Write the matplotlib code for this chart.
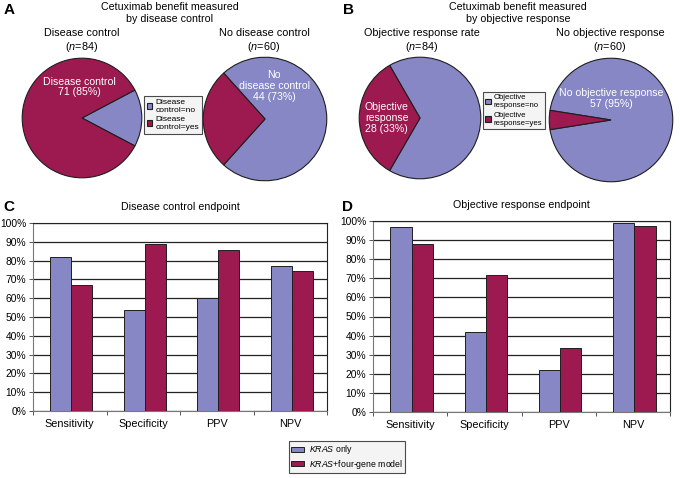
#!/usr/bin/env python3

import numpy as np
import matplotlib
matplotlib.use("Agg")
import matplotlib.pyplot as plt
from matplotlib.patches import Patch
from matplotlib.ticker import PercentFormatter, FixedLocator

plt.rcParams["font.family"] = ["Liberation Sans", "DejaVu Sans"]
plt.rcParams["mathtext.fontset"] = "custom"
plt.rcParams["mathtext.rm"] = "Liberation Sans"
plt.rcParams["mathtext.it"] = "Liberation Sans:italic"

# Data
# pies: counts of (no, yes)
dc_yes_counts = [13, 71]     # disease control group (n=84): no / yes
dc_no_counts = [44, 16]      # no disease control group (n=60): no / yes
or_yes_counts = [56, 28]     # objective response rate group (n=84): no / yes
or_no_counts = [57, 3]       # no objective response group (n=60): no / yes

categories = ["Sensitivity", "Specificity", "PPV", "NPV"]
dc_kras = [0.82, 0.535, 0.60, 0.77]
dc_model = [0.67, 0.89, 0.855, 0.745]
or_kras = [0.97, 0.42, 0.22, 0.99]
or_model = [0.88, 0.715, 0.335, 0.975]

BLUE = "#8787C6"
RED = "#9C1A4F"
EDGE = "#1e1e1e"

W, H = 680, 478
fig = plt.figure(figsize=(W / 100, H / 100), dpi=100)


def px_axes(x0, y0, x1, y1):
    """Add axes from pixel box (top-left origin)."""
    return fig.add_axes([x0 / W, 1 - y1 / H, (x1 - x0) / W, (y1 - y0) / H])


def draw_pie(cx, cy, r, counts, text, tx, ty):
    ax = px_axes(cx - r, cy - r, cx + r, cy + r)
    # 'no' is blue, 'yes' is red; the smaller slice faces the legend
    frac_no = counts[0] / sum(counts)
    if frac_no < 0.5:
        start = -frac_no * 180
    else:
        start = 180 + (1 - frac_no) * 180
    wedges, _ = ax.pie(counts, colors=[BLUE, RED], startangle=start,
                       counterclock=True, radius=1,
                       wedgeprops=dict(edgecolor=EDGE, linewidth=0.8))
    ax.set_xlim(-1.02, 1.02)
    ax.set_ylim(-1.02, 1.02)
    ax.set_aspect("auto")
    ax.text(tx, ty, text, color="white", ha="center", va="center",
            fontsize=7.6, linespacing=1.1)
    return wedges


def style_legend(leg):
    leg.get_frame().set_facecolor("#f2f2f2")
    leg.get_frame().set_edgecolor(EDGE)
    leg.get_frame().set_linewidth(0.8)


# Panel A
fig.text(4 / W, 1 - 10 / H, "A", fontsize=11, fontweight="bold", va="center")
fig.text(170 / W, 1 - 13 / H, "Cetuximab benefit measured\nby disease control",
         ha="center", va="center", fontsize=7.7, linespacing=1.15)
fig.text(82 / W, 1 - 41 / H, "Disease control\n($\\it{n}$=84)",
         ha="center", va="center", fontsize=7.8, linespacing=1.2)
fig.text(264 / W, 1 - 41 / H, "No disease control\n($\\it{n}$=60)",
         ha="center", va="center", fontsize=7.8, linespacing=1.2)
wa = draw_pie(82, 118, 61, dc_yes_counts, "Disease control\n71 (85%)", -0.05, 0.52)
draw_pie(265, 119, 63, dc_no_counts, "No\ndisease control\n44 (73%)", 0.15, 0.53)
leg = fig.legend(wa, ["Disease\ncontrol=no", "Disease\ncontrol=yes"],
                 loc="upper left", bbox_to_anchor=(144 / W, 1 - 96 / H),
                 fontsize=6.0, frameon=True, fancybox=False,
                 handlelength=0.7, handleheight=0.7, handletextpad=0.4,
                 borderpad=0.3, labelspacing=0.3, borderaxespad=0)
style_legend(leg)

# Panel B
fig.text(343 / W, 1 - 10 / H, "B", fontsize=11, fontweight="bold", va="center")
fig.text(518 / W, 1 - 13 / H, "Cetuximab benefit measured\nby objective response",
         ha="center", va="center", fontsize=7.7, linespacing=1.15)
fig.text(422 / W, 1 - 41 / H, "Objective response rate\n($\\it{n}$=84)",
         ha="center", va="center", fontsize=7.8, linespacing=1.2)
fig.text(610 / W, 1 - 41 / H, "No objective response\n($\\it{n}$=60)",
         ha="center", va="center", fontsize=7.8, linespacing=1.2)
wb = draw_pie(420, 118, 62, or_yes_counts, "Objective\nresponse\n28 (33%)", -0.55, 0.0)
draw_pie(611, 120, 63, or_no_counts, "No objective response\n57 (95%)", 0.0, 0.35)
leg = fig.legend(wb, ["Objective\nresponse=no", "Objective\nresponse=yes"],
                 loc="upper left", bbox_to_anchor=(483 / W, 1 - 92 / H),
                 fontsize=5.6, frameon=True, fancybox=False,
                 handlelength=0.7, handleheight=0.7, handletextpad=0.4,
                 borderpad=0.3, labelspacing=0.3, borderaxespad=0)
style_legend(leg)


def draw_bars(ax, kras, model, title):
    x = np.arange(len(categories))
    w = 0.285
    b1 = ax.bar(x - w / 2 + 0.02, kras, w, color=BLUE, edgecolor=EDGE,
                linewidth=0.7, zorder=3)
    b2 = ax.bar(x + w / 2 + 0.02, model, w, color=RED, edgecolor=EDGE,
                linewidth=0.7, zorder=3)
    ax.set_xlim(-0.5, len(categories) - 0.5)
    ax.set_ylim(0, 1)
    ax.set_yticks(np.arange(0, 1.01, 0.1))
    ax.yaxis.set_major_formatter(PercentFormatter(1.0, decimals=0))
    ax.set_xticks(x)
    ax.set_xticklabels(categories, fontsize=7.8)
    ax.xaxis.set_minor_locator(FixedLocator(np.arange(-0.5, len(categories), 1)))
    ax.tick_params(axis="x", which="major", length=0, pad=6)
    ax.tick_params(axis="x", which="minor", length=3, width=0.7, color="#555")
    ax.tick_params(axis="y", length=3, width=0.7, color="#555", labelsize=7.4, pad=2)
    ax.yaxis.grid(True, color="#222", linewidth=0.9, zorder=0)
    ax.set_axisbelow(True)
    for s in ax.spines.values():
        s.set_linewidth(0.8)
    ax.spines["left"].set_color("#777")
    ax.spines["bottom"].set_color("#777")
    ax.spines["top"].set_color("#222")
    ax.spines["right"].set_color("#222")
    ax.set_title(title, fontsize=7.7, pad=9)
    return b1, b2


# Panel C
axc = px_axes(33, 223, 327, 411)
draw_bars(axc, dc_kras, dc_model, "Disease control endpoint")
fig.text(3 / W, 1 - 207 / H, "C", fontsize=11, fontweight="bold", va="center")

# Panel D
axd = px_axes(373, 221, 670, 412)
draw_bars(axd, or_kras, or_model, "Objective response endpoint")
fig.text(342 / W, 1 - 207 / H, "D", fontsize=11, fontweight="bold", va="center")

leg = fig.legend([Patch(facecolor=BLUE, edgecolor=EDGE, linewidth=0.7),
                  Patch(facecolor=RED, edgecolor=EDGE, linewidth=0.7)],
                 ["$\\it{KRAS}$ only", "$\\it{KRAS}$+four-gene model"],
                 loc="upper left", bbox_to_anchor=(289 / W, 1 - 441 / H),
                 fontsize=6.3, frameon=True, fancybox=False,
                 handlelength=1.5, handleheight=0.5, handletextpad=0.5,
                 borderpad=0.25, labelspacing=0.2, borderaxespad=0)
style_legend(leg)

fig.savefig("out.png", dpi=100)
